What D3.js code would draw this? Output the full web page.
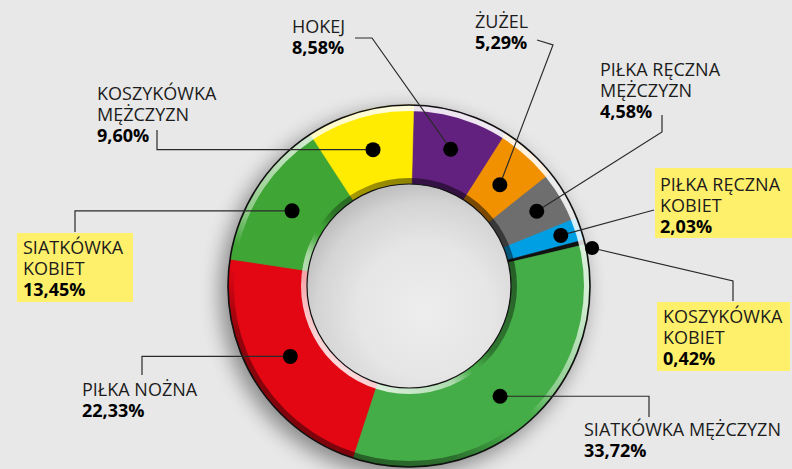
<!DOCTYPE html>
<html>
<head>
<meta charset="utf-8">
<script src="https://cdn.jsdelivr.net/npm/d3@7"></script>
<style>
  html, body { margin: 0; padding: 0; background: #e8e8e8; }
  svg { display: block; font-family: "Open Sans", "DejaVu Sans", sans-serif; }
</style>
</head>
<body>
<svg id="chart" width="792" height="469"></svg>
<script>
// Share of sports, clockwise from 12 o'clock
const categories = [
  "HOKEJ", "ŻUŻEL", "PIŁKA RĘCZNA MĘŻCZYZN", "PIŁKA RĘCZNA KOBIET",
  "KOSZYKÓWKA KOBIET", "SIATKÓWKA MĘŻCZYZN", "PIŁKA NOŻNA",
  "SIATKÓWKA KOBIET", "KOSZYKÓWKA MĘŻCZYZN"
];
const shares = [8.58, 5.29, 4.58, 2.03, 0.42, 33.72, 22.33, 13.45, 9.60];
const sliceColors = [
  "#63217f", "#f29100", "#6e6e6e", "#009fe3",
  "#111111", "#45ad47", "#e30613", "#3fa535", "#ffec00"
];
// Label text broken into lines
const labelLines = [
  ["HOKEJ"], ["ŻUŻEL"], ["PIŁKA RĘCZNA", "MĘŻCZYZN"], ["PIŁKA RĘCZNA", "KOBIET"],
  ["KOSZYKÓWKA", "KOBIET"], ["SIATKÓWKA MĘŻCZYZN"], ["PIŁKA NOŻNA"],
  ["SIATKÓWKA", "KOBIET"], ["KOSZYKÓWKA", "MĘŻCZYZN"]
];
const highlighted = [false, false, false, true, true, false, false, true, false];

// Label placement: text anchor, marker radius, leader elbows (null y = same as marker)
const labelLayout = [
  { x: 292, y: 33,  dotR: 143, shift: 0,   leader: [[372, 38], [355, 38]] },
  { x: 475, y: 28,  dotR: 136, shift: 0,   leader: [[553, 45], [537, 40]] },
  { x: 600, y: 76,  dotR: 148, shift: 0,   leader: [[662, 132], [662, 115]] },
  { x: 660, y: 191, dotR: 160, shift: 0,   leader: [[654, 210]], box: [655, 168, 140, 70] },
  { x: 663, y: 323, dotR: 187, shift: 2.3, leader: [[733, 281], [733, 301]], box: [657, 302, 133, 69] },
  { x: 584, y: 436, dotR: 143, shift: 3,   leader: [[649, null], [649, 417]] },
  { x: 82,  y: 396, dotR: 138, shift: 1,   leader: [[142, null], [142, 375]] },
  { x: 23,  y: 254, dotR: 139, shift: 0,   leader: [[75, null], [75, 232]], box: [17, 233, 116, 69] },
  { x: 97,  y: 100, dotR: 141, shift: 1,   leader: [[157, null], [157, 130]] }
];

const cx = 409, cy = 286;
const outerR = 181, innerR = 102;
const rot = 1.5 * Math.PI / 180;
const lineH = 21;

const svg = d3.select("#chart");
const defs = svg.append("defs");

defs.append("filter").attr("id", "soft").attr("x", "-30%").attr("y", "-30%")
  .attr("width", "160%").attr("height", "160%")
  .append("feGaussianBlur").attr("stdDeviation", 10);

function linGrad(id, x1, y1, x2, y2, stops) {
  const gr = defs.append("linearGradient").attr("id", id)
    .attr("x1", x1).attr("y1", y1).attr("x2", x2).attr("y2", y2);
  stops.forEach(([o, c, a]) => gr.append("stop").attr("offset", o)
    .attr("stop-color", c).attr("stop-opacity", a));
}
// Outer bevel: lit upper-right, shaded lower-left
linGrad("outerBevel", 0.75, 0.067, 0.25, 0.933, [
  [0, "#fff", 0.9], [0.3, "#fff", 0.75], [0.55, "#fff", 0.4], [0.64, "#fff", 0],
  [0.7, "#000", 0], [0.85, "#000", 0.35], [1, "#000", 0.45]
]);
// Inner bevel: shaded at the top, lit at the bottom
linGrad("innerBevel", 0.83, 0.13, 0.17, 0.87, [
  [0, "#000", 0.5], [0.48, "#000", 0.3], [0.57, "#000", 0],
  [0.6, "#fff", 0], [0.7, "#fff", 0.55], [1, "#fff", 0.85]
]);
const hole = defs.append("radialGradient").attr("id", "hole")
  .attr("cx", 0.58).attr("cy", 0.62).attr("r", 0.65);
[[0, "#ededed"], [0.5, "#e6e6e6"], [0.82, "#d4d4d4"], [1, "#bababa"]]
  .forEach(([o, c]) => hole.append("stop").attr("offset", o).attr("stop-color", c));

const ringG = svg.append("g").attr("transform", `translate(${cx},${cy})`);

// Soft cast shadow below the ring
ringG.append("circle").attr("cx", -6).attr("cy", 7).attr("r", outerR + 2)
  .attr("fill", "#000").attr("opacity", 0.4).attr("filter", "url(#soft)");

const pie = d3.pie().sort(null).value(d => d)
  .startAngle(rot).endAngle(rot + 2 * Math.PI);
const arcs = pie(shares);
const arc = d3.arc().innerRadius(innerR).outerRadius(outerR);

ringG.selectAll("path.slice").data(arcs).join("path")
  .attr("class", "slice")
  .attr("d", arc)
  .attr("fill", (d, i) => sliceColors[i])
  .attr("stroke", (d, i) => sliceColors[i])
  .attr("stroke-width", 0.5);

const ring = d3.arc();
ringG.append("path")
  .attr("d", ring({ innerRadius: outerR - 6, outerRadius: outerR, startAngle: 0, endAngle: 2 * Math.PI }))
  .attr("fill", "url(#outerBevel)");
ringG.append("path")
  .attr("d", ring({ innerRadius: innerR, outerRadius: innerR + 6, startAngle: 0, endAngle: 2 * Math.PI }))
  .attr("fill", "url(#innerBevel)");

ringG.append("circle").attr("r", innerR).attr("fill", "url(#hole)")
  .attr("stroke", "#111").attr("stroke-width", 1.2);
ringG.append("circle").attr("r", outerR).attr("fill", "none")
  .attr("stroke", "#111").attr("stroke-width", 1.6);

// Marker positions from each slice's mid angle
const dots = arcs.map((d, i) => {
  const L = labelLayout[i];
  const a = (d.startAngle + d.endAngle) / 2 + L.shift * Math.PI / 180;
  return [cx + L.dotR * Math.sin(a), cy - L.dotR * Math.cos(a)];
});

const fmt = d3.format(".2f");
const pct = v => fmt(v).replace(".", ",") + "%";

const overlay = svg.append("g");

// Leaders
labelLayout.forEach((L, i) => {
  const p0 = dots[i];
  const pts = [p0].concat(L.leader.map(([x, y]) => [x, y === null ? p0[1] : y]));
  overlay.append("path")
    .attr("d", d3.line()(pts))
    .attr("fill", "none").attr("stroke", "#2a2a2a").attr("stroke-width", 1.2);
});

overlay.selectAll("circle.dot").data(dots).join("circle")
  .attr("class", "dot")
  .attr("cx", d => d[0]).attr("cy", d => d[1])
  .attr("r", (d, i) => i === 4 ? 7 : 7.5)
  .attr("fill", "#000");

// Labels
labelLayout.forEach((L, i) => {
  if (highlighted[i] && L.box) {
    overlay.append("rect").attr("x", L.box[0]).attr("y", L.box[1])
      .attr("width", L.box[2]).attr("height", L.box[3]).attr("fill", "#fff06b");
  }
  const t = overlay.append("text").attr("x", L.x).attr("y", L.y)
    .attr("font-size", 18).attr("fill", "#1c1c1c");
  labelLines[i].forEach((s, k) => {
    t.append("tspan").attr("x", L.x).attr("y", L.y + k * lineH).text(s);
  });
  t.append("tspan").attr("x", L.x).attr("y", L.y + labelLines[i].length * lineH)
    .attr("font-weight", 700).attr("fill", "#000").text(pct(shares[i]));
});
</script>
</body>
</html>
